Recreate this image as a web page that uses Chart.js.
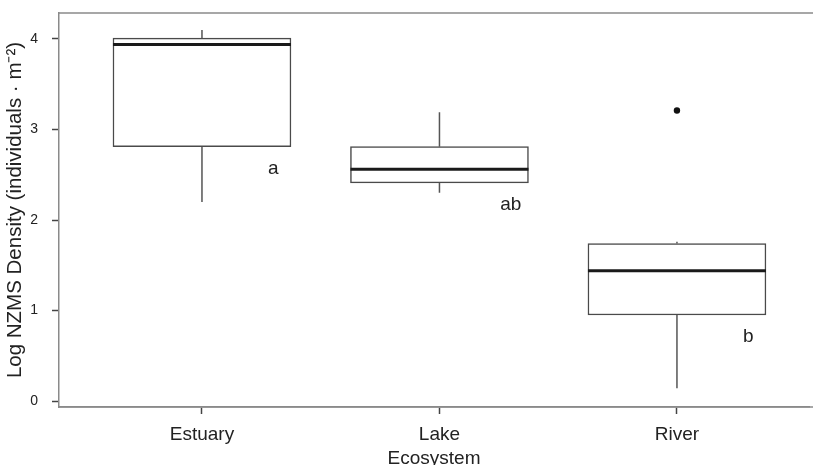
<!DOCTYPE html>
<html><head><meta charset="utf-8">
<script src="https://cdn.jsdelivr.net/npm/chart.js@4/dist/chart.umd.min.js"></script>
<style>html,body{margin:0;padding:0;background:#fff;}#wrap{width:813px;height:465px;position:relative;}</style>
</head><body><div id="wrap"><canvas id="c" width="813" height="465" style="width:813px;height:465px;"></canvas></div>
<script>
// ---- data ----
const categories = ['Estuary', 'Lake', 'River'];
const whiskerLow = [2.20, 2.30, 0.14];
const q1 = [2.81, 2.41, 0.95];
const median = [3.94, 2.56, 1.44];
const q3 = [4.01, 2.81, 1.74];
const whiskerHigh = [4.10, 3.19, 1.76];
const outlierCat = [3];
const outlierVal = [3.21];
const letters = ['a', 'ab', 'b'];
const yTicks = [0, 1, 2, 3, 4];

const FONT = "'Liberation Sans', Arial, sans-serif";
const TXT = '#222';

const boxPlugin = {
  id: 'boxExtras',
  afterDatasetsDraw(chart) {
    const {ctx, chartArea, scales: {x, y}} = chart;
    const meta = chart.getDatasetMeta(0);
    ctx.save();
    // whiskers
    ctx.strokeStyle = '#555';
    ctx.lineWidth = 1.5;
    categories.forEach((c, i) => {
      const px = x.getPixelForValue(i + 1);
      ctx.beginPath();
      ctx.moveTo(px, y.getPixelForValue(q3[i]));
      ctx.lineTo(px, y.getPixelForValue(whiskerHigh[i]));
      ctx.moveTo(px, y.getPixelForValue(q1[i]));
      ctx.lineTo(px, y.getPixelForValue(whiskerLow[i]));
      ctx.stroke();
    });
    // medians
    ctx.strokeStyle = '#1a1a1a';
    ctx.lineWidth = 3;
    categories.forEach((c, i) => {
      const el = meta.data[i];
      const half = el.width / 2;
      const py = y.getPixelForValue(median[i]);
      ctx.beginPath();
      ctx.moveTo(el.x - half, py);
      ctx.lineTo(el.x + half, py);
      ctx.stroke();
    });
    // letters
    ctx.fillStyle = TXT;
    ctx.font = '19px ' + FONT;
    ctx.textAlign = 'center';
    ctx.textBaseline = 'middle';
    categories.forEach((c, i) => {
      ctx.fillText(letters[i], x.getPixelForValue(i + 1 + 0.3), y.getPixelForValue(q1[i] - 0.24));
    });
    // top and bottom frame lines running off the right edge
    ctx.strokeStyle = '#8a8a8a';
    ctx.lineWidth = 1.5;
    ctx.beginPath();
    ctx.moveTo(chartArea.left - 0.75, chartArea.top);
    ctx.lineTo(chart.width, chartArea.top);
    ctx.moveTo(chartArea.left - 0.75, chartArea.bottom);
    ctx.lineTo(chart.width, chartArea.bottom);
    ctx.stroke();
    ctx.restore();
  }
};

new Chart(document.getElementById('c'), {
  type: 'bar',
  data: {
    datasets: [
      {
        type: 'bar',
        data: categories.map((c, i) => ({x: i + 1, y: [q1[i], q3[i]]})),
        backgroundColor: '#ffffff',
        borderColor: '#4a4a4a',
        borderWidth: 1.5,
        borderSkipped: false,
        barThickness: 178,
        order: 2
      },
      {
        type: 'scatter',
        data: outlierCat.map((c, i) => ({x: c, y: outlierVal[i]})),
        backgroundColor: '#111',
        borderColor: '#111',
        borderWidth: 0,
        pointRadius: 3.2,
        order: 1
      }
    ]
  },
  options: {
    responsive: false,
    animation: false,
    devicePixelRatio: 1,
    layout: {padding: {top: 13, left: 0, right: 0, bottom: 0}},
    plugins: {legend: {display: false}, tooltip: {enabled: false}},
    scales: {
      x: {
        type: 'linear',
        offset: false,
        min: 0.398,
        max: 3.556,
        afterBuildTicks: (s) => { s.ticks = categories.map((c, i) => ({value: i + 1})); },
        afterFit: (s) => { s.height = 58; s.paddingLeft = 0; s.paddingRight = 0; },
        ticks: {
          callback: (v) => categories[v - 1],
          font: {family: FONT, size: 19},
          color: TXT,
          padding: 9,
          maxRotation: 0,
          autoSkip: false
        },
        grid: {offset: false, drawOnChartArea: false, tickLength: 7, tickColor: '#444', tickWidth: 1.5},
        border: {color: '#8a8a8a', width: 1.5},
        title: {display: true, text: 'Ecosystem', font: {family: FONT, size: 19, lineHeight: 1.2}, color: TXT, padding: {top: 0, bottom: -5}}
      },
      y: {
        type: 'linear',
        min: -0.066,
        max: 4.287,
        afterBuildTicks: (s) => { s.ticks = yTicks.map(v => ({value: v})); },
        afterFit: (s) => { s.width = 59; s.paddingTop = 0; s.paddingBottom = 0; },
        ticks: {
          font: {family: FONT, size: 14},
          color: TXT,
          padding: 14
        },
        grid: {drawOnChartArea: false, tickLength: 7, tickColor: '#444', tickWidth: 1.5},
        border: {color: '#8a8a8a', width: 1.5},
        title: {display: true, text: 'Log NZMS Density (individuals · m⁻²)', font: {family: FONT, size: 20.5, lineHeight: 1.2}, color: TXT, padding: {top: 3, bottom: 0}}
      }
    }
  },
  plugins: [boxPlugin]
});
</script>
</body></html>
